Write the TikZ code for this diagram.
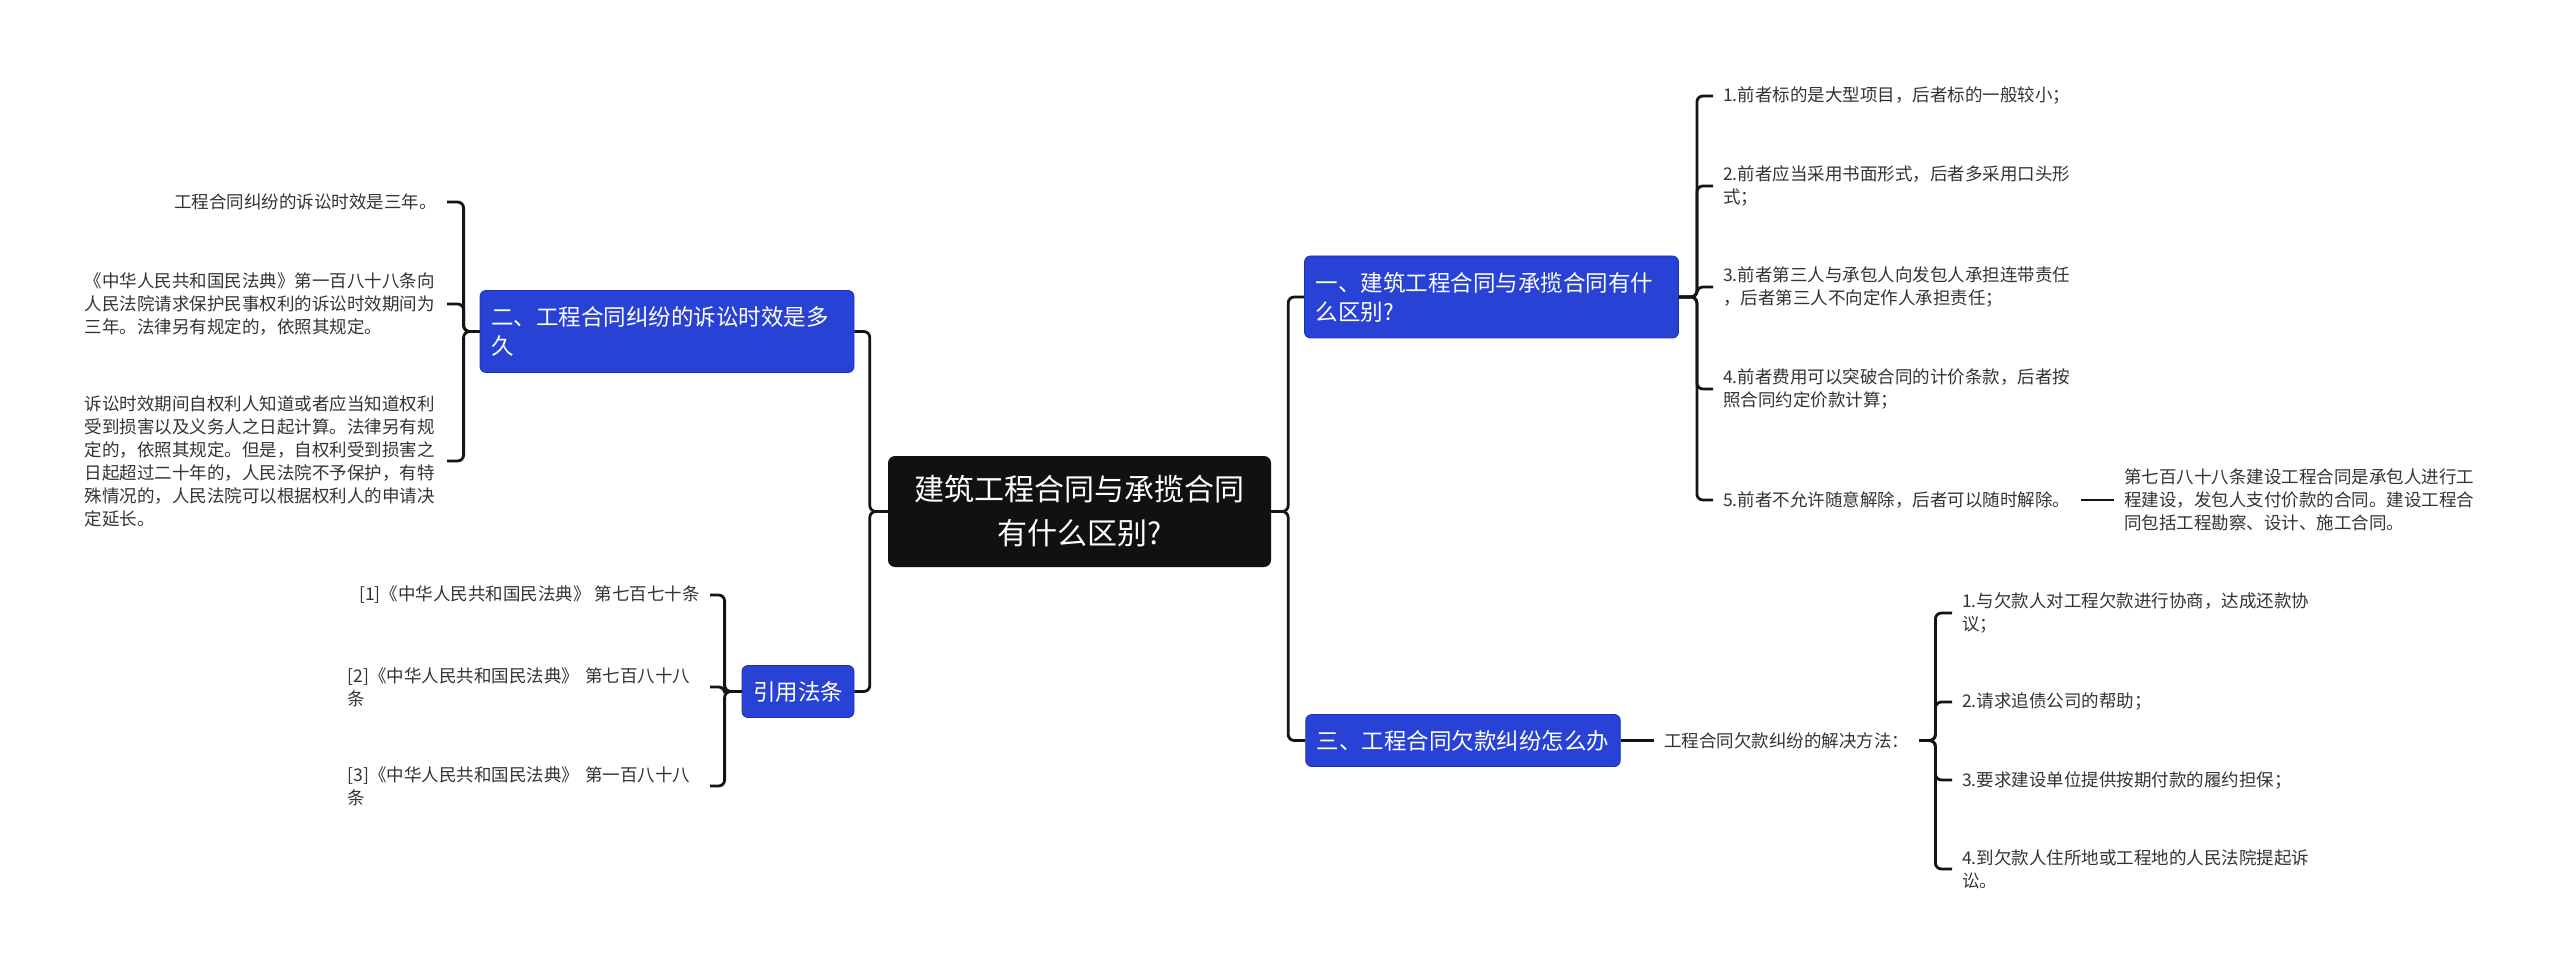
\documentclass[tikz,border=0pt]{standalone}
\usepackage{fontspec}
\setmainfont{Noto Sans CJK SC}
\definecolor{topicblue}{RGB}{40,66,214}
\definecolor{topicedge}{RGB}{28,48,170}
\definecolor{rootblack}{RGB}{17,17,17}
\definecolor{leafgray}{RGB}{51,51,51}

\begin{document}
\begin{tikzpicture}[x=1pt, y=-1pt,
		root/.style={fill=rootblack, text=white, rounded corners=7pt, align=center, minimum width=383pt, minimum height=111pt, font=\fontsize{30}{44}\selectfont},
		topic/.style={fill=topicblue, draw=topicedge, line width=0.8pt, text=white, rounded corners=6pt, inner xsep=11pt, inner ysep=4pt, minimum height=52pt, font=\fontsize{22.5}{29}\selectfont},
		topictwo/.style={topic, text width=352pt, align=left, minimum height=82pt},
		leaf/.style={text=leafgray, inner xsep=10pt, inner ysep=2pt, font=\fontsize{17.5}{23}\selectfont},
		leafwide/.style={leaf, text width=352pt, align=left},
		link/.style={draw=black!92, line width=2.8pt, rounded corners=6pt}]
		\useasboundingbox (0,0) rectangle (2560,976);
		
		% Centre
		\node[root] (root) at (1079.5,511.5) {建筑工程合同与承揽合同\\有什么区别?};
		
		% --- Left side ---
		\node[topictwo] (t2) at (667,331.5) {二、工程合同纠纷的诉讼时效是多\\久};
		\node[topic] (tref) at (798,691.5) {引用法条};
		
		\node[leaf, anchor=east] (a1) at (447,202) {工程合同纠纷的诉讼时效是三年。};
		\node[leafwide, anchor=east] (a2) at (447,304) {《中华人民共和国民法典》第一百八十八条向\\人民法院请求保护民事权利的诉讼时效期间为\\三年。法律另有规定的，依照其规定。};
		\node[leafwide, anchor=east] (a3) at (447,461) {诉讼时效期间自权利人知道或者应当知道权利\\受到损害以及义务人之日起计算。法律另有规\\定的，依照其规定。但是，自权利受到损害之\\日起超过二十年的，人民法院不予保护，有特\\殊情况的，人民法院可以根据权利人的申请决\\定延长。};
		
		\node[leaf, anchor=east] (r1) at (710,595) {[1]《中华人民共和国民法典》 第七百七十条};
		\node[leafwide, anchor=east] (r2) at (710,687) {[2]《中华人民共和国民法典》 第七百八十八\\条};
		\node[leafwide, anchor=east] (r3) at (710,786) {[3]《中华人民共和国民法典》 第一百八十八\\条};
		
		% --- Right side ---
		\node[topictwo] (t1) at (1491.5,297) {一、建筑工程合同与承揽合同有什\\么区别?};
		\node[topic] (t3) at (1463,740.5) {三、工程合同欠款纠纷怎么办};
		
		\node[leaf, anchor=west] (b1) at (1713,96) {1.前者标的是大型项目，后者标的一般较小；};
		\node[leafwide, anchor=west] (b2) at (1713,186) {2.前者应当采用书面形式，后者多采用口头形\\式；};
		\node[leafwide, anchor=west] (b3) at (1713,287) {3.前者第三人与承包人向发包人承担连带责任\\，后者第三人不向定作人承担责任；};
		\node[leafwide, anchor=west] (b4) at (1713,389) {4.前者费用可以突破合同的计价条款，后者按\\照合同约定价款计算；};
		\node[leaf, anchor=west] (b5) at (1713,500) {5.前者不允许随意解除，后者可以随时解除。};
		\node[leafwide, anchor=west] (b6) at (2114,500) {第七百八十八条建设工程合同是承包人进行工\\程建设，发包人支付价款的合同。建设工程合\\同包括工程勘察、设计、施工合同。};
		
		\node[leaf, anchor=west] (c0) at (1654,740.5) {工程合同欠款纠纷的解决方法：};
		\node[leafwide, anchor=west] (c1) at (1952,613) {1.与欠款人对工程欠款进行协商，达成还款协\\议；};
		\node[leaf, anchor=west] (c2) at (1952,702) {2.请求追债公司的帮助；};
		\node[leaf, anchor=west] (c3) at (1952,780) {3.要求建设单位提供按期付款的履约担保；};
		\node[leafwide, anchor=west] (c4) at (1952,869) {4.到欠款人住所地或工程地的人民法院提起诉\\讼。};
		
		% Connectors
		\draw[link] (root.west) -- ++(-18,0) |- (t2.east);
		\draw[link] (root.west) -- ++(-18,0) |- (tref.east);
		\draw[link] (root.east) -- ++(17,0) |- (t1.west);
		\draw[link] (root.east) -- ++(17,0) |- (t3.west);
		\foreach \n in {a1,a2,a3}
			\draw[link] (t2.west) -- ++(-16,0) |- (\n.east);
		\foreach \n in {r1,r2,r3}
			\draw[link] (tref.west) -- ++(-17,0) |- (\n.east);
		\foreach \n in {b1,b2,b3,b4,b5}
			\draw[link] (t1.east) -- ++(18,0) |- (\n.west);
		\draw[link] (b5.east) -- (b6.west);
		\draw[link] (t3.east) -- (c0.west);
		\foreach \n in {c1,c2,c3,c4}
			\draw[link] (c0.east) -- ++(16,0) |- (\n.west);
		
	\end{tikzpicture}
\end{document}
